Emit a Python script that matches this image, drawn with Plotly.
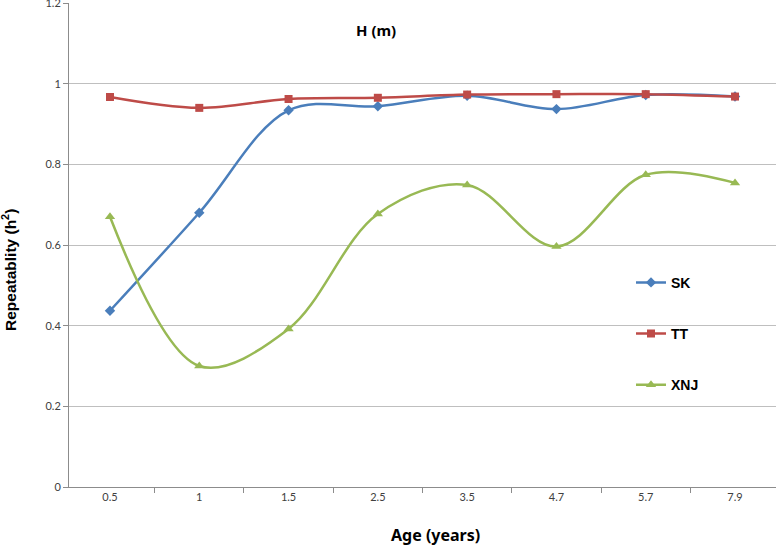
import plotly.graph_objects as go

ages = ["0.5", "1", "1.5", "2.5", "3.5", "4.7", "5.7", "7.9"]
sk = [0.437, 0.68, 0.934, 0.944, 0.970, 0.937, 0.972, 0.968]
tt = [0.967, 0.940, 0.962, 0.965, 0.973, 0.974, 0.974, 0.968]
xnj = [0.670, 0.300, 0.392, 0.677, 0.749, 0.596, 0.774, 0.754]
y_ticks = [0, 0.2, 0.4, 0.6, 0.8, 1, 1.2]
y_tick_text = ["0", "0.2", "0.4", "0.6", "0.8", "1", "1.2"]

series = [
    ("SK", sk, "#4A7EBB", "diamond", 8),
    ("TT", tt, "#BE4B48", "square", 8),
    ("XNJ", xnj, "#98B954", "triangle-up", 9),
]

L, R, T, B = 69, 1, 3, 60
PW, PH = 777 - L - R, 547 - T - B


def px_x(x):
    return (x - L) / PW


def px_y(y):
    return (547 - B - y) / PH


fig = go.Figure()
for name, vals, color, sym, size in series:
    fig.add_trace(go.Scatter(
        x=ages, y=vals, name=name, mode="lines+markers",
        line=dict(color=color, width=2.5, shape="spline", smoothing=1),
        marker=dict(symbol=sym, size=size, color=color),
        legendgroup=name,
    ))

tick_font = "Lato"
fig.update_layout(
    width=777, height=547,
    margin=dict(l=L, r=R, t=T, b=B, autoexpand=False),
    paper_bgcolor="white", plot_bgcolor="white",
    font=dict(family=tick_font, color="#000000"),
    showlegend=True,
    legend=dict(
        x=px_x(631), xanchor="left", y=0.455, yanchor="top",
        font=dict(size=14, family="Liberation Sans", color="#000000", weight="bold"),
        tracegroupgap=30, bgcolor="rgba(0,0,0,0)",
    ),
    annotations=[
        dict(text="<b>H (m)</b>", x=px_x(376), xref="paper", y=px_y(30), yref="paper",
             yanchor="middle", xanchor="center", showarrow=False,
             font=dict(size=15, family="Noto Sans", color="#000000")),
        dict(text="<b>Age (years)</b>", x=px_x(435), xref="paper", y=px_y(535), yref="paper",
             yanchor="middle", xanchor="center", showarrow=False,
             font=dict(size=16, family="Noto Sans", color="#000000")),
        dict(text="<b>Repeatablity (h<sup>2</sup>)</b>", x=px_x(9), xref="paper", y=px_y(270), yref="paper",
             yanchor="middle", xanchor="center", showarrow=False, textangle=-90,
             font=dict(size=15.5, family="Liberation Sans", color="#000000")),
    ],
)

fig.update_xaxes(
    type="category", tickson="boundaries", ticks="outside", ticklen=5,
    tickcolor="#8C8C8C", showline=True, linecolor="#8C8C8C", linewidth=1,
    showgrid=False, tickfont=dict(size=11, color="#404040", family=tick_font),
)
fig.update_yaxes(
    range=[0, 1.2], tickmode="array", tickvals=y_ticks, ticktext=y_tick_text,
    ticks="outside", ticklen=5, tickcolor="#8C8C8C", ticklabeloverflow="allow",
    showline=True, linecolor="#8C8C8C", linewidth=1,
    showgrid=True, gridcolor="#BFBFBF", gridwidth=1, zeroline=False,
    tickfont=dict(size=11, color="#404040", family=tick_font),
)

fig.write_html("out.html", config={"displayModeBar": False},
               post_script="document.body.style.margin='0';document.body.style.overflow='hidden';")
